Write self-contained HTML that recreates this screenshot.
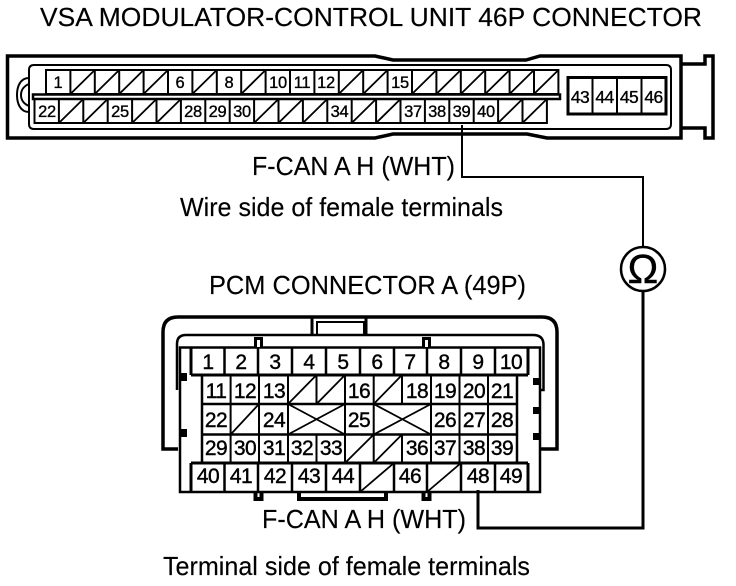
<!DOCTYPE html>
<html><head><meta charset="utf-8"><style>
html,body{margin:0;padding:0;background:#fff}
svg{display:block}
text{font-family:"Liberation Sans",sans-serif;fill:#000}
.n{font-size:16.500px;letter-spacing:-.3px;text-anchor:middle;stroke:#000;stroke-width:.35px}
.m{font-size:17.500px;letter-spacing:-.6px;text-anchor:middle;stroke:#000;stroke-width:.35px}
.p{font-size:21px;letter-spacing:-.5px;text-anchor:middle;stroke:#000;stroke-width:.4px}
.l{font-size:26px;stroke:#000;stroke-width:.15px}
</style></head><body>
<svg width="736" height="586" viewBox="0 0 736 586" xmlns="http://www.w3.org/2000/svg">
<text class="l" x="40" y="26" textLength="662" lengthAdjust="spacingAndGlyphs">VSA MODULATOR-CONTROL UNIT 46P CONNECTOR</text>
<text class="l" x="252" y="175" textLength="203" lengthAdjust="spacingAndGlyphs">F-CAN A H (WHT)</text>
<text class="l" x="180" y="216" textLength="323" lengthAdjust="spacingAndGlyphs">Wire side of female terminals</text>
<text class="l" x="209" y="294" textLength="317" lengthAdjust="spacingAndGlyphs">PCM CONNECTOR A (49P)</text>
<text class="l" x="262" y="528" textLength="204" lengthAdjust="spacingAndGlyphs">F-CAN A H (WHT)</text>
<text class="l" x="163" y="575" textLength="367" lengthAdjust="spacingAndGlyphs">Terminal side of female terminals</text>

<!-- VSA connector -->
<g fill="none" stroke="#000">
<path stroke-width="3.500" d="M7.500 56H375L393 60H526L540 56H681V138H547L527 134H393L375 138H7.500Z"/>
<path stroke-width="3.500" d="M681 64H705V56H713V138H705V128H681"/>
<path stroke-width="2" d="M34 65H666Q671 65 671 70V124Q671 129 666 129H34Q29 129 29 124V70Q29 65 34 65Z"/>
<path stroke-width="2" d="M29 78C20 78 17 87 17 95C17 103 20 112 29 112M29 84C24 86 21 90 21 95C21 100 24 104 29 106"/>
<path stroke-width="2.500" d="M33 94.500H560V99H33Z"/>
<path stroke-width="2" d="M46 70H558.400V94H46ZM70.400 70V94M94.800 70V94M119.200 70V94M143.600 70V94M168 70V94M192.400 70V94M216.800 70V94M241.200 70V94M265.600 70V94M290 70V94M314.400 70V94M338.800 70V94M363.200 70V94M387.600 70V94M412 70V94M436.400 70V94M460.800 70V94M485.200 70V94M509.600 70V94M534 70V94"/>
<path stroke-width="2" d="M34.500 99H546.900V123H34.500ZM58.900 99V123M83.300 99V123M107.700 99V123M132.100 99V123M156.500 99V123M180.900 99V123M205.300 99V123M229.700 99V123M254.100 99V123M278.500 99V123M302.900 99V123M327.300 99V123M351.700 99V123M376.100 99V123M400.500 99V123M424.900 99V123M449.300 99V123M473.700 99V123M498.100 99V123M522.500 99V123"/>
<path stroke-width="1.800" d="M70.400 94L94.800 70M94.800 94L119.200 70M119.200 94L143.600 70M143.600 94L168 70M192.400 94L216.800 70M241.200 94L265.600 70M338.800 94L363.200 70M363.200 94L387.600 70M412 94L436.400 70M436.400 94L460.800 70M460.800 94L485.200 70M485.200 94L509.600 70M509.600 94L534 70M534 94L558.400 70"/>
<path stroke-width="1.800" d="M58.900 123L83.300 99M83.300 123L107.700 99M132.100 123L156.500 99M156.500 123L180.900 99M254.100 123L278.500 99M278.500 123L302.900 99M302.900 123L327.300 99M351.700 123L376.100 99M376.100 123L400.500 99M498.100 123L522.500 99M522.500 123L546.900 99"/>
<path stroke-width="3" d="M568 77.500H666V114H568Z"/>
<path stroke-width="2" d="M592.500 77V114M617 77V114M641.500 77V114"/>
</g>
<text class="n" x="58" y="88">1</text><text class="n" x="180" y="88">6</text><text class="n" x="229" y="88">8</text><text class="n" x="278" y="88">10</text><text class="n" x="302" y="88">11</text><text class="n" x="326" y="88">12</text><text class="n" x="400" y="88">15</text>
<text class="n" x="47" y="117">22</text><text class="n" x="120" y="117">25</text><text class="n" x="193" y="117">28</text><text class="n" x="217.500" y="117">29</text><text class="n" x="242" y="117">30</text><text class="n" x="339.500" y="117">34</text><text class="n" x="413" y="117">37</text><text class="n" x="437" y="117">38</text><text class="n" x="461.500" y="117">39</text><text class="n" x="486" y="117">40</text>
<text class="m" x="580" y="103">43</text><text class="m" x="604.500" y="103">44</text><text class="m" x="629" y="103">45</text><text class="m" x="653.500" y="103">46</text>

<!-- Wires and meter -->
<g fill="none" stroke="#000">
<path stroke-width="2" d="M462 125V177H643V247"/>
<circle stroke-width="2.500" cx="643" cy="269" r="22"/>
<path stroke-width="3" d="M643 291V528H478V490"/>
</g>
<text x="643" y="283" text-anchor="middle" style="font-size:41px;stroke:#000;stroke-width:.4px">Ω</text>

<!-- PCM connector -->
<g fill="none" stroke="#000">
<path stroke-width="3.500" d="M178 449H163V332Q163 317 178 317H542Q557 317 557 332V449H540"/>
<path stroke-width="3" d="M312 317V335M366 317V335"/>
<path stroke-width="2" d="M317 335V322H364V335"/>
<path stroke-width="2.500" d="M177 390V344Q177 335 186 335H533Q543 335 543.500 344V390H540"/>
<path stroke-width="2.500" d="M180 347.500H540V492H180Z"/>
<path fill="#fff" stroke-width="3" d="M255.500 347V338.500H261.500V347M423.500 347V338.500H429.500V347"/>
<path stroke-width="4" d="M255.500 492V499H261.500V492M423.500 492V499H429.500V492M299 492V499H386V492"/>
<path stroke-width="3" d="M191 347.500V375M528 347.500V375M191 375H528M191 463H528M191 463V492M528 463V492"/>
<path stroke-width="2.500" d="M224.500 348V375M258 348V375M292 348V375M326 348V375M360 348V375M394 348V375M427 348V375M461 348V375M495 348V375"/>
<path stroke-width="2.500" d="M224.500 463V492M258 463V492M292 463V492M326 463V492M360 463V492M394 463V492M427 463V492M461 463V492M495 463V492"/>
<path stroke-width="2.500" d="M202 375V463M517 375V463M202 404H517M202 434.500H517"/>
<path stroke-width="2" d="M230.600 375V463M259 375V463M288 375V463M316.500 375V404M316.500 434.500V463M345 375V463M373.700 375V463M402 375V404M402 434.500V463M431 375V463M459.500 375V463M488 375V463"/>
<path stroke-width="1.800" d="M288 404L316.500 375M316.500 404L345 375M373.700 404L402 375M230.600 434.500L259 404M288 404L345 434.500M345 404L288 434.500M373.700 404L431 434.500M431 404L373.700 434.500M345 463L373.700 434.500M373.700 463L402 434.500M360 492L394 463M427 492L461 463"/>
</g>
<path fill="#000" d="M180 373h7v8h-7zM180 429h7v8h-7zM533 378h7v7h-7zM533 407h7v7h-7zM533 433h7v7h-7z"/>
<text class="p" x="208" y="369">1</text><text class="p" x="241" y="369">2</text><text class="p" x="275" y="369">3</text><text class="p" x="309" y="369">4</text><text class="p" x="343" y="369">5</text><text class="p" x="377" y="369">6</text><text class="p" x="410" y="369">7</text><text class="p" x="444" y="369">8</text><text class="p" x="478" y="369">9</text><text class="p" x="511" y="369">10</text>
<text class="p" x="216" y="398">11</text><text class="p" x="245" y="398">12</text><text class="p" x="274" y="398">13</text><text class="p" x="359" y="398">16</text><text class="p" x="417" y="398">18</text><text class="p" x="445" y="398">19</text><text class="p" x="474" y="398">20</text><text class="p" x="502" y="398">21</text>
<text class="p" x="216" y="427">22</text><text class="p" x="274" y="427">24</text><text class="p" x="359" y="427">25</text><text class="p" x="445" y="427">26</text><text class="p" x="474" y="427">27</text><text class="p" x="502" y="427">28</text>
<text class="p" x="216" y="455">29</text><text class="p" x="245" y="455">30</text><text class="p" x="274" y="455">31</text><text class="p" x="302" y="455">32</text><text class="p" x="331" y="455">33</text><text class="p" x="417" y="455">36</text><text class="p" x="445" y="455">37</text><text class="p" x="474" y="455">38</text><text class="p" x="502" y="455">39</text>
<text class="p" x="208" y="483">40</text><text class="p" x="241" y="483">41</text><text class="p" x="275" y="483">42</text><text class="p" x="309" y="483">43</text><text class="p" x="343" y="483">44</text><text class="p" x="410" y="483">46</text><text class="p" x="478" y="483">48</text><text class="p" x="511" y="483">49</text>
</svg>
</body></html>
